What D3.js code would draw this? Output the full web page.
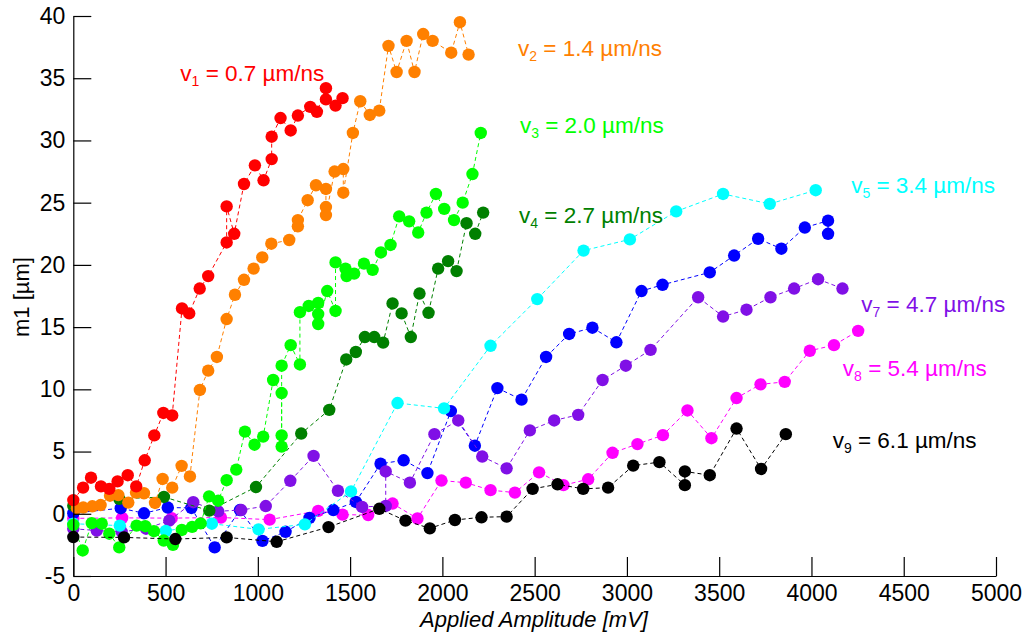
<!DOCTYPE html>
<html>
<head>
<meta charset="utf-8">
<script src="https://cdn.jsdelivr.net/npm/d3@7"></script>
<style>
  html, body { margin: 0; padding: 0; background: #fff; }
  svg { display: block; font-family: "Liberation Sans", Arial, sans-serif; }
</style>
</head>
<body>
<svg id="chart" width="1028" height="639"></svg>
<script>
// Applied amplitude (mV) and measured m1 (µm) for each tip velocity
const v1X = [0, 53, 96, 150, 195, 240, 295, 341, 387, 439, 488, 536, 589, 628, 685, 731, 831, 831, 872, 925, 984, 1031, 1075, 1075, 1123, 1178, 1217, 1284, 1320, 1369, 1369, 1421, 1459];
const v1Y = [1.1, 2.1, 2.9, 2.2, 2.0, 2.6, 3.1, 2.2, 4.3, 6.3, 8.1, 7.9, 16.5, 16.1, 18.1, 19.1, 21.8, 24.7, 22.5, 26.5, 28.0, 26.8, 28.5, 30.3, 31.8, 30.8, 32.0, 32.7, 32.3, 34.2, 33.3, 32.8, 33.4];

const v2X = [20, 54, 103, 148, 199, 244, 298, 340, 383, 443, 484, 536, 587, 632, 686, 731, 778, 831, 876, 925, 977, 1024, 1073, 1170, 1217, 1217, 1270, 1315, 1369, 1369, 1369, 1416, 1463, 1463, 1515, 1555, 1607, 1658, 1708, 1752, 1806, 1849, 1896, 1947, 2048, 2095, 2142];
const v2Y = [0.45, 0.5, 0.6, 0.7, 1.45, 1.5, 0.9, 1.7, 1.65, 0.87, 2.8, 2.1, 3.85, 3.0, 9.95, 11.5, 12.6, 15.65, 17.6, 18.8, 19.7, 20.6, 21.7, 22.0, 23.1, 23.6, 25.2, 26.4, 26.1, 24.65, 24.0, 27.5, 27.7, 25.8, 30.6, 33.15, 32.05, 32.4, 37.6, 35.5, 38.0, 35.5, 38.55, 38.0, 37.05, 39.5, 36.9];

const v3X = [0, 51, 100, 154, 195, 249, 343, 390, 437, 490, 540, 588, 644, 690, 736, 785, 831, 883, 930, 982, 1029, 1083, 1129, 1129, 1129, 1129, 1178, 1228, 1228, 1276, 1327, 1327, 1327, 1376, 1421, 1421, 1475, 1481, 1522, 1575, 1622, 1667, 1719, 1766, 1820, 1869, 1914, 1965, 2010, 2063, 2110, 2163, 2208];
const v3Y = [-0.9, -2.95, -0.75, -0.8, -1.6, -2.7, -0.95, -1.0, -1.4, -2.15, -2.5, -1.3, -1.05, -0.77, 1.4, 1.05, 2.7, 3.55, 6.6, 5.55, 6.2, 10.75, 9.7, 6.3, 5.4, 11.9, 13.55, 12.0, 16.2, 16.7, 16.95, 16.05, 15.25, 17.9, 16.3, 20.2, 19.7, 19.1, 19.3, 20.1, 19.6, 21.0, 21.6, 23.9, 23.5, 22.6, 24.2, 25.7, 24.5, 23.6, 25.0, 27.3, 30.6];

const v4X = [0, 249, 491, 737, 990, 1235, 1387, 1479, 1531, 1580, 1631, 1679, 1730, 1779, 1829, 1876, 1925, 1977, 2031, 2077, 2131, 2178, 2221];
const v4Y = [0.65, 1.2, 1.35, 0.25, 2.15, 6.45, 8.35, 12.4, 13.0, 14.2, 14.2, 13.75, 16.9, 16.1, 14.2, 17.7, 16.15, 19.7, 20.3, 19.5, 23.35, 22.5, 24.2];

const v5X = [0, 252, 501, 751, 1004, 1255, 1505, 1757, 2009, 2261, 2514, 2765, 3016, 3267, 3521, 3774, 4023];
const v5Y = [-0.8, -0.95, -1.38, -0.8, -1.25, -0.85, 1.8, 8.9, 8.47, 13.5, 17.25, 21.15, 22.05, 24.3, 25.7, 24.9, 26.0];

const v6X = [0, 257, 383, 512, 640, 766, 903, 1025, 1150, 1280, 1409, 1531, 1665, 1790, 1919, 2046, 2176, 2298, 2429, 2562, 2687, 2813, 2943, 3079, 3193, 3449, 3581, 3711, 3837, 3964, 4090, 4090];
const v6Y = [0.05, 0.45, 0.04, 0.5, 0.47, -2.7, 0.3, -2.18, -1.45, -0.33, 0.3, 0.95, 4.02, 4.3, 3.27, 8.25, 5.47, 10.1, 9.17, 12.6, 14.45, 14.95, 13.78, 17.9, 18.4, 19.4, 20.75, 22.1, 21.3, 23.0, 23.55, 22.5];

const v7X = [0, 127, 262, 394, 520, 650, 785, 910, 1043, 1176, 1302, 1434, 1565, 1693, 1693, 1824, 1957, 2086, 2216, 2348, 2474, 2606, 2736, 2868, 2994, 3128, 3386, 3521, 3648, 3778, 3906, 4036, 4168];
const v7Y = [-1.2, -1.35, -1.45, -1.2, -0.55, 0.93, 0.2, 0.3, 0.62, 2.65, 4.65, 1.85, 0.55, 0.63, 3.4, 2.5, 6.4, 7.5, 4.6, 3.65, 6.7, 7.5, 7.95, 10.75, 11.9, 13.17, 17.4, 15.85, 16.4, 17.4, 18.1, 18.85, 18.1];

const v8X = [0, 265, 533, 800, 1064, 1327, 1459, 1598, 1730, 1865, 1995, 2127, 2261, 2393, 2524, 2656, 2790, 2922, 3057, 3195, 3328, 3458, 3594, 3724, 3855, 3991, 4122, 4253];
const v8Y = [-0.37, -0.33, -0.35, -0.3, -0.47, 0.23, -0.07, -0.1, 0.82, -0.38, 2.67, 2.5, 1.9, 1.7, 3.33, 2.3, 2.77, 4.9, 5.6, 6.32, 8.3, 6.07, 9.3, 10.4, 10.6, 13.1, 13.55, 14.7];

const v9X = [0, 275, 553, 831, 1102, 1383, 1658, 1800, 1932, 2068, 2212, 2348, 2489, 2624, 2763, 2898, 3034, 3176, 3314, 3314, 3449, 3594, 3727, 3861];
const v9Y = [-1.87, -1.9, -2.03, -1.9, -2.25, -1.07, 0.4, -0.55, -1.17, -0.5, -0.28, -0.23, 2.0, 2.37, 2.0, 2.1, 3.87, 4.15, 2.3, 3.4, 3.1, 6.85, 3.6, 6.4];

// Series names (subscript index + velocity) and colours
const seriesIndex = ["1", "2", "3", "4", "5", "6", "7", "8", "9"];
const seriesVelocity = ["0.7", "1.4", "2.0", "2.7", "3.4", "4.1", "4.7", "5.4", "6.1"];
const seriesColor = ["#ff0000", "#ff8000", "#00ff00", "#008000", "#00ffff", "#0000ff", "#8010e6", "#ff00ff", "#000000"];
const seriesXs = [v1X, v2X, v3X, v4X, v5X, v6X, v7X, v8X, v9X];
const seriesYs = [v1Y, v2Y, v3Y, v4Y, v5Y, v6Y, v7Y, v8Y, v9Y];

// Axis ticks and titles
const xTicks = [0, 500, 1000, 1500, 2000, 2500, 3000, 3500, 4000, 4500, 5000];
const yTicks = [-5, 0, 5, 10, 15, 20, 25, 30, 35, 40];
const xTitle = "Applied Amplitude [mV]";
const yTitle = "m1 [µm]";

// Series annotation positions in data units (v6 carries no annotation)
const labelIds = [0, 1, 2, 3, 4, 6, 7, 8];
const labelX = [580, 2410, 2420, 2415, 4215, 4270, 4170, 4115];
const labelY = [34.8, 36.8, 30.6, 23.4, 25.8, 16.2, 11.1, 5.3];

const svg = d3.select("#chart");
const x = d3.scaleLinear().domain([0, 5000]).range([73.3, 996]);
const y = d3.scaleLinear().domain([-5, 40]).range([576, 16]);

const series = seriesXs.map((xs, i) => ({
  color: seriesColor[i],
  pts: xs.map((xv, j) => ({ x: xv, y: seriesYs[i][j] }))
}));

// Draw order: later series sit on top
const drawOrder = [7, 5, 6, 4, 3, 2, 1, 0, 8];
const line = d3.line().x(d => x(d.x)).y(d => y(d.y));

const plot = svg.append("g");
drawOrder.forEach(i => {
  const s = series[i];
  const g = plot.append("g");
  g.append("path")
    .attr("d", line(s.pts))
    .attr("fill", "none")
    .attr("stroke", s.color)
    .attr("stroke-width", 1)
    .attr("stroke-dasharray", "4,3");
  g.selectAll("circle")
    .data(s.pts)
    .join("circle")
    .attr("cx", d => x(d.x))
    .attr("cy", d => y(d.y))
    .attr("r", 6.2)
    .attr("fill", s.color);
});

// Axes with inward ticks; plain hyphen for negative numbers
const plain = d => String(d);
const xAxis = d3.axisBottom(x).tickValues(xTicks).tickFormat(plain)
  .tickSizeInner(-19).tickSizeOuter(0).tickPadding(9);
const yAxis = d3.axisLeft(y).tickValues(yTicks).tickFormat(plain)
  .tickSizeInner(-18).tickSizeOuter(0).tickPadding(8);

const gx = svg.append("g").attr("transform", "translate(0,576)").call(xAxis);
const gy = svg.append("g").attr("transform", "translate(73.3,0)").call(yAxis);
[gx, gy].forEach(g => {
  g.selectAll("path.domain").attr("stroke", "#000").attr("stroke-width", 1.2);
  g.selectAll(".tick line").attr("stroke", "#000").attr("stroke-width", 1.2);
  g.selectAll(".tick text").attr("fill", "#000")
    .style("font-size", "23px")
    .style("font-family", "'Liberation Sans', Arial, sans-serif");
});

// Axis titles
svg.append("text")
  .attr("x", 534).attr("y", 627)
  .attr("text-anchor", "middle")
  .style("font-size", "22px").style("font-style", "italic")
  .text(xTitle);

svg.append("text")
  .attr("transform", "translate(29,297) rotate(-90)")
  .attr("text-anchor", "middle")
  .style("font-size", "22px")
  .text(yTitle);

// Velocity annotations: v with subscript index
labelIds.forEach((i, k) => {
  const t = svg.append("text")
    .attr("x", x(labelX[k]))
    .attr("y", y(labelY[k]))
    .attr("fill", seriesColor[i])
    .style("font-size", "22.5px");
  t.append("tspan").text("v");
  t.append("tspan").attr("dy", 5).style("font-size", "14px").text(seriesIndex[i]);
  t.append("tspan").attr("dy", -5).text(" = " + seriesVelocity[i] + " µm/ns");
});
</script>
</body>
</html>
